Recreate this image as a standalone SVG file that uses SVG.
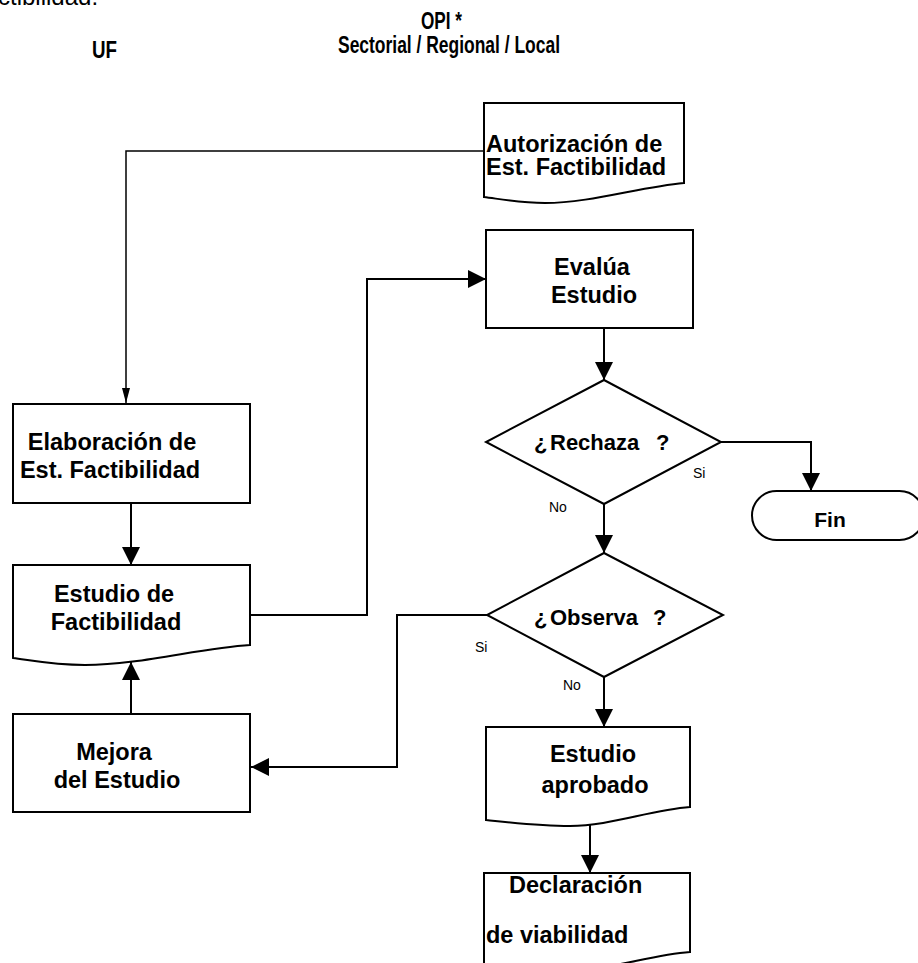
<svg xmlns="http://www.w3.org/2000/svg" width="918" height="963" viewBox="0 0 918 963">
<style>
.shape{fill:#fff;stroke:#000;stroke-width:2}
.conn{fill:none;stroke:#000;stroke-width:2}
.thin{fill:none;stroke:#000;stroke-width:1.5}
.t{font-family:"Liberation Sans",Arial,sans-serif;font-weight:bold;font-size:23.5px;fill:#000}
.d{font-family:"Liberation Sans",Arial,sans-serif;font-weight:bold;font-size:22px;fill:#000}
.h{font-family:"Liberation Sans",Arial,sans-serif;font-weight:bold;font-size:23px;fill:#000}
.lbl{font-family:"Liberation Sans",Arial,sans-serif;font-size:14px;fill:#000}
.m{text-anchor:middle}
</style>
<defs>
<marker id="big" markerUnits="userSpaceOnUse" markerWidth="18" markerHeight="18" refX="18" refY="9" orient="auto">
<path d="M0,0 L18,9 L0,18 Z" fill="#000"/>
</marker>
<marker id="small" markerUnits="userSpaceOnUse" markerWidth="15" markerHeight="8" refX="15" refY="4" orient="auto">
<path d="M0,0 L15,4 L0,8 Z" fill="#000"/>
</marker>
</defs>
<rect width="918" height="963" fill="#fff"/>
<text x="-2" y="5" style="font-family:'Liberation Sans',Arial,sans-serif;font-size:24px">ctibilidad.</text>
<g id="headers">
<text class="h" x="421" y="29" textLength="41" lengthAdjust="spacingAndGlyphs">OPI *</text>
<text class="h" x="338" y="53" textLength="222" lengthAdjust="spacingAndGlyphs">Sectorial / Regional / Local</text>
<text class="h" x="92" y="58" textLength="25" lengthAdjust="spacingAndGlyphs">UF</text>
</g>
<g id="connectors">
<path class="thin" d="M484,151 H126 V403" marker-end="url(#small)"/>
<path class="conn" d="M131,503 V565" marker-end="url(#big)"/>
<path class="conn" d="M250,615 H367 V279 H486" marker-end="url(#big)"/>
<path class="conn" d="M131,714 V662" marker-end="url(#big)"/>
<path class="conn" d="M604,328 V380" marker-end="url(#big)"/>
<path class="conn" d="M721,442 H811 V491" marker-end="url(#big)"/>
<path class="conn" d="M604,504 V553" marker-end="url(#big)"/>
<path class="conn" d="M487,615 H397 V767 H251" marker-end="url(#big)"/>
<path class="conn" d="M604,677 V727" marker-end="url(#big)"/>
<path class="conn" d="M590,824 V873" marker-end="url(#big)"/>
</g>
<g id="autorizacion">
<path class="shape" d="M484,103 H684 V183 C640,187 590,203 545,203 C520,203 500,199 484,197 Z"/>
<text class="t" x="486" y="152">Autorización de</text>
<text class="t" x="486" y="175">Est. Factibilidad</text>
</g>
<g id="elaboracion">
<rect class="shape" x="13" y="404" width="237" height="99"/>
<text class="t m" x="112" y="450">Elaboración de</text>
<text class="t m" x="110" y="478">Est. Factibilidad</text>
</g>
<g id="estudio-factibilidad">
<path class="shape" d="M13,565 H250 V645 C200,648 140,665 85,665 C55,665 35,661 13,658 Z"/>
<text class="t m" x="114" y="602">Estudio de</text>
<text class="t m" x="116" y="630">Factibilidad</text>
</g>
<g id="mejora">
<rect class="shape" x="13" y="714" width="237" height="98"/>
<text class="t m" x="114" y="760">Mejora</text>
<text class="t m" x="117" y="788">del Estudio</text>
</g>
<g id="evalua">
<rect class="shape" x="486" y="230" width="207" height="98"/>
<text class="t m" x="592" y="275">Evalúa</text>
<text class="t m" x="594" y="303">Estudio</text>
</g>
<g id="rechaza">
<polygon class="shape" points="604,380 721,442 604,504 486,442"/>
<text class="d" x="534" y="450">¿<tspan x="550">Rechaza</tspan><tspan x="656">?</tspan></text>
<text class="lbl" x="693" y="478">Si</text>
<text class="lbl" x="549" y="512">No</text>
</g>
<g id="fin">
<rect class="shape" x="752" y="491" width="172" height="49" rx="24.5" ry="24.5"/>
<text class="t m" x="830" y="527" style="font-size:21px">Fin</text>
</g>
<g id="observa">
<polygon class="shape" points="604,553 723,615 604,677 487,615"/>
<text class="d" x="534" y="625">¿<tspan x="550">Observa</tspan><tspan x="653">?</tspan></text>
<text class="lbl" x="475" y="652">Si</text>
<text class="lbl" x="563" y="690">No</text>
</g>
<g id="estudio-aprobado">
<path class="shape" d="M486,727 H690 V807 C650,810 610,826 570,826 C540,826 515,823 486,820 Z"/>
<text class="t m" x="593" y="762">Estudio</text>
<text class="t m" x="595" y="793">aprobado</text>
</g>
<g id="declaracion">
<path class="shape" d="M484,873 H690 V952 C650,955 610,970 570,970 C540,970 515,968 484,965 Z"/>
<text class="t" x="509" y="893">Declaración</text>
<text class="t" x="486" y="943">de viabilidad</text>
</g>
</svg>
